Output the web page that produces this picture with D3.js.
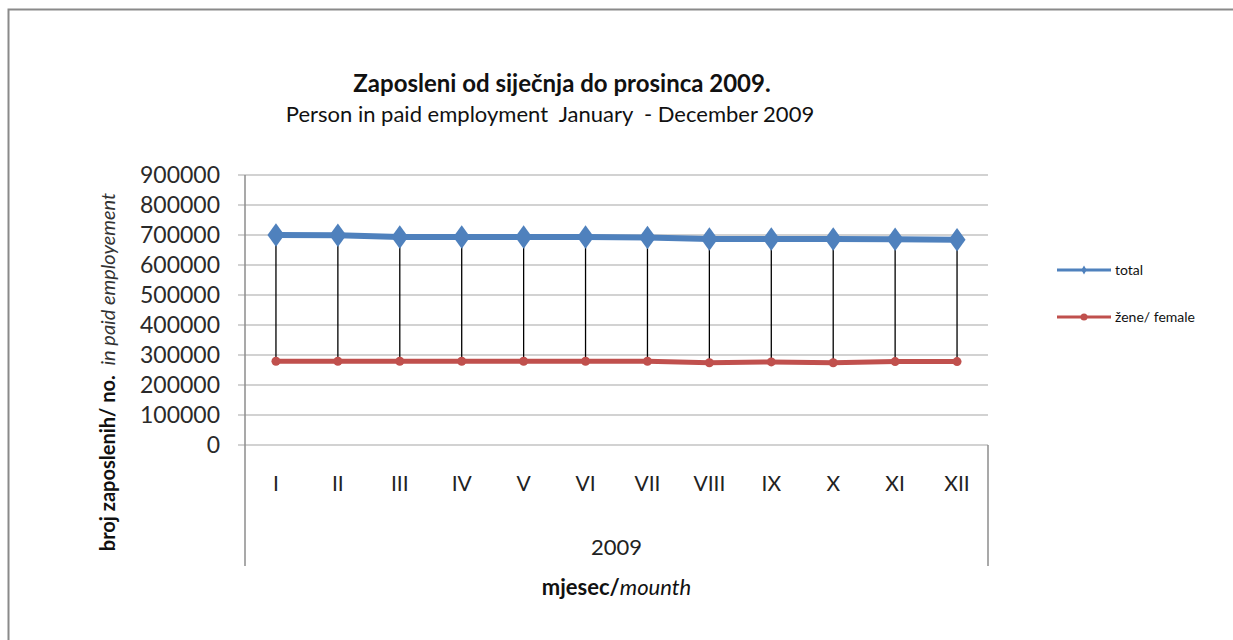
<html>

<head>
  <script src="https://d3js.org/d3.v7.min.js"></script>
  <style>
    body {
      margin: 0;
      background: white;
    }

    svg {
      display: block;
      font-family: Lato, "Open Sans", sans-serif;
    }
  </style>
</head>

<body>
  <div id="chart"></div>
</body>

<script>
  // chart values
  var months = ["I", "II", "III", "IV", "V", "VI", "VII", "VIII", "IX", "X", "XI", "XII"];
  var total = [700000, 699000, 693000, 693000, 693000, 693000, 692000, 687000, 687000, 687000, 686000, 684000];
  var female = [279000, 279000, 279000, 279000, 279000, 279000, 279000, 274000, 277000, 274000, 278000, 278000];
  var yTicks = [0, 100000, 200000, 300000, 400000, 500000, 600000, 700000, 800000, 900000];
  var seriesNames = ["total", "žene/ female"];

  var width = 1233, height = 640;
  var plotLeft = 245, plotRight = 988, plotTop = 175, plotBottom = 445, plotFloor = 566;

  var svg = d3.select("#chart").append("svg")
    .attr("width", width).attr("height", height);

  // outer frame
  svg.append("rect").attr("x", 8.5).attr("y", 9.5)
    .attr("width", width + 20).attr("height", height + 20)
    .style("fill", "white").style("stroke", "#8a8a8a").style("stroke-width", 2);

  var x = d3.scaleBand().domain(months).range([plotLeft, plotRight]);
  var y = d3.scaleLinear().domain([0, 900000]).range([plotBottom, plotTop]);

  // gridlines + ticks
  svg.selectAll(".grid").data(yTicks).enter().append("line")
    .attr("x1", plotLeft - 7).attr("x2", plotRight)
    .attr("y1", function(d) { return y(d); }).attr("y2", function(d) { return y(d); })
    .style("stroke", "#a6a6a6").style("stroke-width", 1.2);

  svg.selectAll(".ylab").data(yTicks).enter().append("text")
    .attr("x", 220).attr("y", function(d) { return y(d); })
    .attr("dy", "0.35em").attr("text-anchor", "end")
    .style("font-size", "23px").style("fill", "#2a2a2a")
    .text(function(d) { return d; });

  // axis lines
  svg.append("line").attr("x1", plotLeft).attr("x2", plotLeft).attr("y1", plotTop).attr("y2", plotFloor)
    .style("stroke", "#8c8c8c").style("stroke-width", 1.5);
  svg.append("line").attr("x1", plotRight).attr("x2", plotRight).attr("y1", plotBottom).attr("y2", plotFloor)
    .style("stroke", "#8c8c8c").style("stroke-width", 1.5);

  // month labels
  svg.selectAll(".xlab").data(months).enter().append("text")
    .attr("x", function(d) { return x(d) + x.bandwidth() / 2; })
    .attr("y", 484).attr("dy", "0.35em").attr("text-anchor", "middle")
    .style("font-size", "21px").style("fill", "#222")
    .text(function(d) { return d; });

  svg.append("text").attr("x", (plotLeft + plotRight) / 2).attr("y", 547).attr("dy", "0.35em")
    .attr("text-anchor", "middle").style("font-size", "22px").style("fill", "#222").text("2009");

  var xt = svg.append("text").attr("x", (plotLeft + plotRight) / 2).attr("y", 587).attr("dy", "0.35em")
    .attr("text-anchor", "middle").style("font-size", "22px").style("fill", "#111");
  xt.append("tspan").style("font-weight", "bold").text("mjesec/");
  xt.append("tspan").style("font-style", "italic").text("mounth");

  // y title
  var yt = svg.append("text").attr("transform", "translate(108,372) rotate(-90)")
    .attr("dy", "0.35em").attr("text-anchor", "middle").style("font-size", "20px").style("fill", "#111")
    .attr("xml:space", "preserve");
  yt.append("tspan").style("font-weight", "bold").text("broj zaposlenih/ no.  ");
  yt.append("tspan").style("font-style", "italic").style("fill", "#333").text("in paid employement");

  // chart title
  svg.append("text").attr("x", 562).attr("y", 84).attr("dy", "0.35em").attr("text-anchor", "middle")
    .style("font-size", "24px").style("font-weight", "bold").style("fill", "#111")
    .text("Zaposleni od siječnja do prosinca 2009.");
  svg.append("text").attr("x", 550).attr("y", 114).attr("dy", "0.35em").attr("text-anchor", "middle")
    .style("font-size", "22px").style("fill", "#111")
    .attr("xml:space", "preserve")
    .text("Person in paid employment  January  - December 2009");

  var cx = function(d, i) { return x(months[i]) + x.bandwidth() / 2; };

  // drop lines between the two series
  svg.selectAll(".drop").data(months).enter().append("line")
    .attr("x1", cx).attr("x2", cx)
    .attr("y1", function(d, i) { return y(total[i]); })
    .attr("y2", function(d, i) { return y(female[i]); })
    .style("stroke", "black").style("stroke-width", 1.3);

  var line = d3.line().x(cx).y(function(d) { return y(d); });

  svg.append("path").datum(total).attr("d", line)
    .style("fill", "none").style("stroke", "#4f81bd").style("stroke-width", 6);
  svg.append("path").datum(female).attr("d", line)
    .style("fill", "none").style("stroke", "#c0504d").style("stroke-width", 5);

  var diamond = d3.symbol().type(d3.symbolDiamond).size(160);
  svg.selectAll(".dmark").data(total).enter().append("path")
    .attr("d", diamond)
    .attr("transform", function(d, i) { return "translate(" + cx(d, i) + "," + y(d) + ") scale(1.25,1)"; })
    .style("fill", "#4f81bd");

  svg.selectAll(".cmark").data(female).enter().append("circle")
    .attr("cx", cx).attr("cy", function(d) { return y(d); }).attr("r", 4.5)
    .style("fill", "#c0504d");

  // legend
  var legend = svg.selectAll(".leg").data(seriesNames).enter().append("g")
    .attr("transform", function(d, i) { return "translate(1057," + (270 + i * 47) + ")"; });
  legend.append("line").attr("x1", 0).attr("x2", 54)
    .style("stroke", function(d, i) { return i ? "#c0504d" : "#4f81bd"; }).style("stroke-width", 3);
  legend.filter(function(d, i) { return i === 0; }).append("path")
    .attr("d", d3.symbol().type(d3.symbolDiamond).size(24)).attr("transform", "translate(27,0)")
    .style("fill", "#4f81bd");
  legend.filter(function(d, i) { return i === 1; }).append("circle")
    .attr("cx", 27).attr("r", 3.5).style("fill", "#c0504d");
  legend.append("text").attr("x", 58).attr("dy", "0.35em")
    .style("font-size", "14px").style("fill", "#111")
    .text(function(d) { return d; });
</script>

</html>
